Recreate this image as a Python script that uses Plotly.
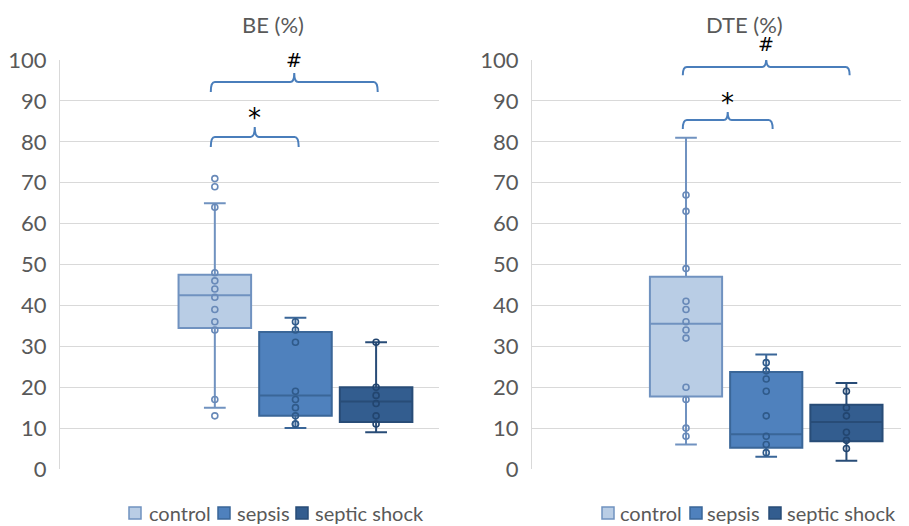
import plotly.graph_objects as go

groups = ["control", "sepsis", "septic shock"]
positions = [1, 2, 3]

# BE (%) box statistics
be_q1 = [34.5, 13.0, 11.5]
be_median = [42.5, 18.0, 16.5]
be_q3 = [47.5, 33.5, 20.0]
be_lower = [15.0, 10.0, 9.0]
be_upper = [65.0, 37.0, 31.0]
be_points_control = [71, 69, 64, 48, 46, 44, 42, 39, 36, 34, 17, 13]
be_points_sepsis = [36, 34, 31, 19, 17, 15, 13, 11, 11]
be_points_shock = [31, 20, 18, 16, 13, 11]

# DTE (%) box statistics
dte_q1 = [17.7, 5.2, 6.8]
dte_median = [35.5, 8.5, 11.5]
dte_q3 = [47.0, 23.7, 15.7]
dte_lower = [6.0, 3.0, 2.0]
dte_upper = [81.0, 28.0, 21.0]
dte_points_control = [67, 63, 49, 41, 39, 36, 34, 32, 20, 17, 10, 8]
dte_points_sepsis = [26, 24, 22, 19, 13, 8, 6, 4]
dte_points_shock = [19, 15, 13, 9, 7, 5]

y_ticks = [0, 10, 20, 30, 40, 50, 60, 70, 80, 90, 100]
titles = ["BE (%)", "DTE (%)"]

fill_colors = ["#b9cde5", "#4f81bd", "#335d8f"]
line_colors = ["#7092c0", "#3a6698", "#284c77"]
point_colors = ["#6889b8", "#2f5a8a", "#22456f"]
bracket_color = "#4a7ebb"
text_grey = "#595959"
FONT = "Lato"

# page body has an 8px margin: figure is placed at (8, 8) in the window
OFF = 8
W, H = 909 - OFF, 526 - OFF


def px(x):
    return (x - OFF) / W


def py(y):
    return 1 - (y - OFF) / H


fig = go.Figure()

panels = [
    ("x", "y", be_q1, be_median, be_q3, be_lower, be_upper,
     [be_points_control, be_points_sepsis, be_points_shock]),
    ("x2", "y2", dte_q1, dte_median, dte_q3, dte_lower, dte_upper,
     [dte_points_control, dte_points_sepsis, dte_points_shock]),
]

for xa, ya, q1, med, q3, lo, up, pts in panels:
    for i in range(3):
        fig.add_trace(go.Box(
            x=[positions[i]], q1=[q1[i]], median=[med[i]], q3=[q3[i]],
            lowerfence=[lo[i]], upperfence=[up[i]],
            width=0.9, whiskerwidth=0.3, name=groups[i],
            fillcolor=fill_colors[i],
            line=dict(color=line_colors[i], width=2),
            boxpoints=False, showlegend=False, hoverinfo="skip",
            xaxis=xa, yaxis=ya,
        ))
        fig.add_trace(go.Scatter(
            x=[positions[i]] * len(pts[i]), y=pts[i], mode="markers",
            marker=dict(symbol="circle-open", size=6, color=point_colors[i],
                        line=dict(width=1.6, color=point_colors[i])),
            showlegend=False, hoverinfo="skip", xaxis=xa, yaxis=ya,
        ))

# legends drawn as swatches + text below each panel (window pixel positions)
legend_rows = [
    ([129, 218, 296], [147, 235, 313]),
    ([602, 690, 769], [618, 705, 785]),
]
leg_y = 513
sw = 12
for sq_x, tx_x in legend_rows:
    for i in range(3):
        fig.add_shape(type="rect", xref="paper", yref="paper",
                      x0=px(sq_x[i]), x1=px(sq_x[i] + sw),
                      y0=py(leg_y + sw / 2), y1=py(leg_y - sw / 2),
                      fillcolor=fill_colors[i],
                      line=dict(color=line_colors[i], width=1.5))
        fig.add_annotation(x=px(tx_x[i]), y=py(leg_y), xref="paper",
                           yref="paper", text=groups[i], showarrow=False,
                           xanchor="left", yanchor="middle",
                           font=dict(family=FONT, size=20, color=text_grey))

# significance brackets: (axis, x0, x1, y, depth, tick, label, label_y, size)
brackets = [
    ("x", "y", 0.95, 3.02, 94.6, 2.4, 2.2, "#", 100.0, 19),
    ("x", "y", 0.95, 2.04, 81.2, 2.5, 2.4, "*", 85.8, 26),
    ("x2", "y2", 0.96, 3.04, 98.3, 2.0, 2.2, "#", 104.0, 19),
    ("x2", "y2", 0.96, 2.08, 85.3, 2.2, 2.0, "*", 89.5, 26),
]
for xr, yr, x0, x1, y, d, t, lab, ly, fs in brackets:
    xm = (x0 + x1) / 2
    r = 0.05
    path = (f"M {x0},{y - d} Q {x0},{y} {x0 + r},{y} L {xm - r},{y} "
            f"Q {xm},{y} {xm},{y + t} Q {xm},{y} {xm + r},{y} L {x1 - r},{y} "
            f"Q {x1},{y} {x1},{y - d}")
    fig.add_shape(type="path", path=path, xref=xr, yref=yr,
                  line=dict(color=bracket_color, width=2))
    fig.add_annotation(x=xm, y=ly / 100, xref=xr, yref=f"{yr} domain",
                       text=lab, showarrow=False, xanchor="center",
                       font=dict(family="DejaVu Sans", size=fs, color="black"),
                       yanchor="middle")

# titles
fig.add_annotation(x=px(273), y=py(24), xref="paper", yref="paper",
                   text=titles[0], showarrow=False, xanchor="center",
                   yanchor="middle",
                   font=dict(family=FONT, size=22, color=text_grey))
fig.add_annotation(x=px(744), y=py(24), xref="paper", yref="paper",
                   text=titles[1], showarrow=False, xanchor="center",
                   yanchor="middle",
                   font=dict(family=FONT, size=22, color=text_grey))

yaxis_common = dict(
    range=[0, 100], tickvals=y_ticks, showgrid=True, gridcolor="#d9d9d9",
    gridwidth=1, showline=True, linecolor="#d9d9d9", linewidth=1,
    zeroline=False, ticks="", ticklabelstandoff=8,
    tickfont=dict(family=FONT, size=22, color=text_grey),
    domain=[py(469), py(60)],
)
xaxis_common = dict(range=[-0.92, 3.78], showgrid=False, showline=False,
                    zeroline=False, showticklabels=False, ticks="")

fig.update_layout(
    width=W, height=H,
    margin=dict(l=0, r=0, t=0, b=0, autoexpand=False),
    paper_bgcolor="white", plot_bgcolor="white",
    xaxis=dict(domain=[px(60), px(439)], **xaxis_common),
    xaxis2=dict(domain=[px(532), 1.0], anchor="y2", **xaxis_common),
    yaxis=dict(anchor="x", **yaxis_common),
    yaxis2=dict(anchor="x2", **yaxis_common),
    showlegend=False,
)

fig.write_html("out.html")
